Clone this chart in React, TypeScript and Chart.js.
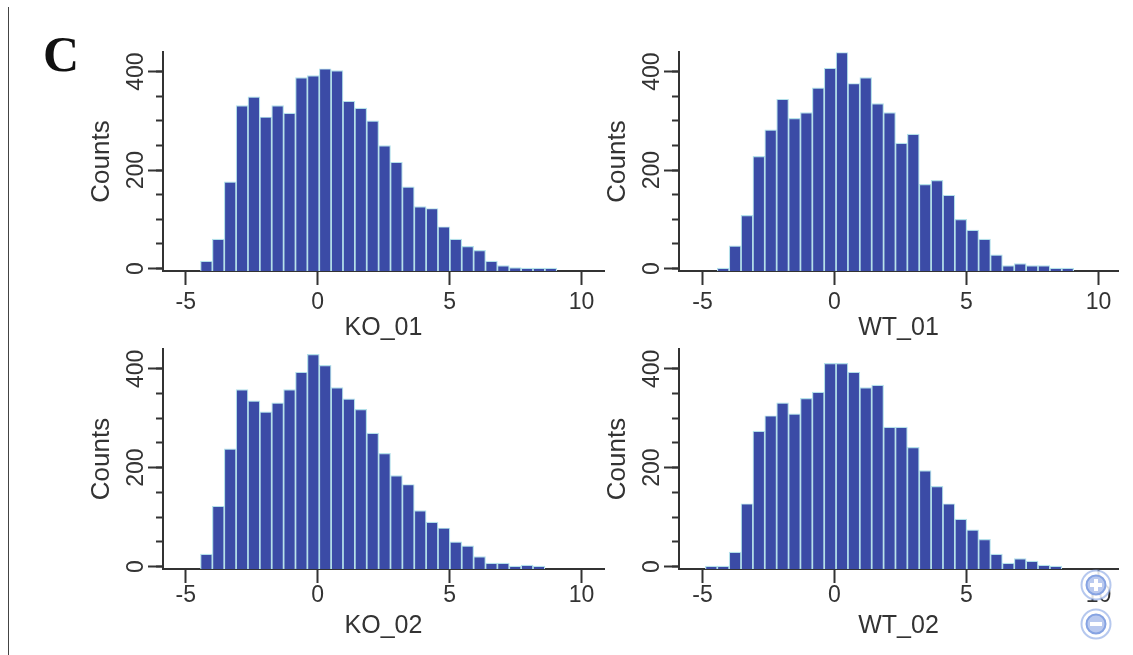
import React, { useEffect, useRef } from "react";
import { Chart, registerables } from "chart.js";

Chart.register(...registerables);

const binCenters = [
  -4.665, -4.215, -3.765, -3.315, -2.865, -2.415, -1.965, -1.515, -1.065, -0.615, -0.165,
  0.285, 0.735, 1.185, 1.635, 2.085, 2.535, 2.985, 3.435, 3.885, 4.335, 4.785, 5.235,
  5.685, 6.135, 6.585, 7.035, 7.485, 7.935, 8.385, 8.835,
];
const ko01 = [null, 15, 60, 176, 331, 349, 308, 331, 316, 388, 392, 406, 402, 340, 326, 300, 250, 216, 166, 126, 122, 85, 60, 45, 37, 15, 6, 2, 1, 1, 1];
const wt01 = [null, 1, 46, 108, 228, 282, 344, 305, 317, 367, 407, 439, 376, 388, 335, 317, 255, 273, 171, 179, 149, 100, 78, 60, 28, 6, 10, 6, 6, 1, 1];
const ko02 = [null, 25, 122, 238, 358, 335, 313, 331, 358, 393, 429, 407, 362, 339, 318, 270, 229, 184, 166, 113, 90, 78, 50, 42, 20, 7, 7, 1, 3, 1, null];
const wt02 = [1, 1, 29, 127, 274, 305, 331, 309, 340, 353, 411, 411, 393, 362, 367, 282, 282, 241, 194, 162, 127, 96, 74, 55, 25, 7, 16, 11, 3, 1, null];

const xTickStep = 5;
const yMajorStep = 200;
const yMinorStep = 50;
const yLabel = "Counts";

const INK = "#333333";
const BAR = "#3b4ba6";
const BAR_EDGE = "#b4e0ea";
const Y_BOX = 80;
const X_BOX = 72;

const panels = [
  { name: "KO_01", values: ko01, left: 163, right: 603.5, top: 51.7, bottom: 270.7, xMin: -5.86, xMax: 10.85, tickPad: 4 },
  { name: "WT_01", values: wt01, left: 679, right: 1118, top: 51.7, bottom: 270.7, xMin: -5.89, xMax: 10.74, tickPad: 4 },
  { name: "KO_02", values: ko02, left: 163, right: 603.5, top: 349.3, bottom: 569.3, xMin: -5.86, xMax: 10.85, tickPad: -1 },
  { name: "WT_02", values: wt02, left: 679, right: 1118, top: 349.3, bottom: 569.3, xMin: -5.89, xMax: 10.74, tickPad: -1 },
];

type Panel = (typeof panels)[number];

const PAD_TOP = 12;
const PAD_RIGHT = 16;

function Histogram({ panel }: { panel: Panel }) {
  const ref = useRef<HTMLCanvasElement>(null);
  useEffect(() => {
    const chart = new Chart(ref.current as HTMLCanvasElement, {
      type: "bar",
      data: {
        datasets: [
          {
            label: panel.name,
            data: binCenters.map((x, i) => ({ x, y: panel.values[i] })),
            backgroundColor: BAR,
            borderColor: BAR_EDGE,
            borderWidth: 1.2,
            base: -5,
            barPercentage: 1,
            categoryPercentage: 1,
            yAxisID: "y",
          } as any,
        ],
      },
      options: {
        responsive: false,
        animation: false,
        layout: { padding: { top: PAD_TOP, right: PAD_RIGHT, left: 0, bottom: 0 } },
        plugins: { legend: { display: false }, tooltip: { enabled: false } },
        scales: {
          x: {
            type: "linear",
            offset: false,
            min: panel.xMin,
            max: panel.xMax,
            afterFit: (s: any) => { s.height = X_BOX; },
            border: { color: INK, width: 2 },
            grid: { offset: false, drawOnChartArea: false, drawTicks: true, tickLength: 14, tickColor: INK, tickWidth: 2 },
            ticks: {
              stepSize: xTickStep,
              includeBounds: false,
              autoSkip: false,
              maxRotation: 0,
              padding: panel.tickPad,
              color: INK,
              font: { family: "'Liberation Sans'", size: 23 },
            },
            title: {
              display: true,
              text: panel.name,
              color: INK,
              padding: 0,
              font: { family: "'Liberation Sans'", size: 25 },
            },
          },
          y: {
            type: "linear",
            weight: 1,
            min: -5,
            max: 440,
            afterFit: (s: any) => { s.width = Y_BOX; },
            border: { color: INK, width: 2 },
            grid: { drawOnChartArea: false, tickLength: 15, tickColor: INK, tickWidth: 2 },
            ticks: {
              stepSize: yMajorStep,
              includeBounds: false,
              autoSkip: false,
              minRotation: 90,
              maxRotation: 90,
              crossAlign: "center",
              padding: -8,
              color: INK,
              font: { family: "'Liberation Sans'", size: 23 },
            },
            title: {
              display: true,
              text: yLabel,
              color: INK,
              padding: { top: 3, bottom: 0 },
              font: { family: "'Liberation Sans'", size: 26 },
            },
          },
          minorY: {
            type: "linear",
            position: "left",
            weight: 0,
            min: -5,
            max: 440,
            afterFit: (s: any) => { s.width = 0; },
            border: { display: false },
            grid: { drawOnChartArea: false, tickLength: 7, tickColor: INK, tickWidth: 2 },
            ticks: {
              stepSize: yMinorStep,
              includeBounds: false,
              autoSkip: false,
              display: false,
            },
          },
        },
      } as any,
    });
    return () => chart.destroy();
  }, [panel]);

  const width = panel.right - panel.left + Y_BOX + PAD_RIGHT;
  const height = panel.bottom - panel.top + X_BOX + PAD_TOP;
  return (
    <canvas
      ref={ref}
      width={Math.round(width)}
      height={Math.round(height)}
      style={{
        position: "absolute",
        left: panel.left - Y_BOX,
        top: panel.top - PAD_TOP,
        width: Math.round(width),
        height: Math.round(height),
        display: "block",
      }}
    />
  );
}

function ZoomButton({ top, plus }: { top: number; plus: boolean }) {
  const c = "#86a3e2";
  return (
    <svg width={34} height={34} style={{ position: "absolute", left: 1079, top, display: "block" }}>
      <circle cx={17} cy={17} r={14.5} fill="#ffffff" fillOpacity={0.85} stroke={c} strokeOpacity={0.6} strokeWidth={2} />
      <circle cx={17} cy={17} r={9.5} fill="#b9c9ef" stroke={c} strokeWidth={2} />
      <rect x={11} y={15} width={12} height={4} fill="#ffffff" />
      {plus ? <rect x={15} y={11} width={4} height={12} fill="#ffffff" /> : null}
    </svg>
  );
}

export default function App() {
  return (
    <div style={{ position: "fixed", left: 0, top: 0, width: 1133, height: 655, background: "#ffffff", overflow: "hidden" }}>
      <div style={{ filter: "blur(0.5px)", position: "absolute", left: 0, top: 0, width: 1133, height: 655 }}>
        <div style={{ position: "absolute", left: 8, top: 7, width: 1, height: 648, background: "#444444" }} />
        <div
          style={{
            position: "absolute",
            left: 43,
            top: 26,
            fontFamily: "'Liberation Serif'",
            fontWeight: 700,
            fontSize: 50,
            lineHeight: "56px",
            color: "#111111",
          }}
        >
          C
        </div>
        {panels.map((p) => (
          <Histogram key={p.name} panel={p} />
        ))}
        <ZoomButton top={568} plus={true} />
        <ZoomButton top={607} plus={false} />
      </div>
    </div>
  );
}
